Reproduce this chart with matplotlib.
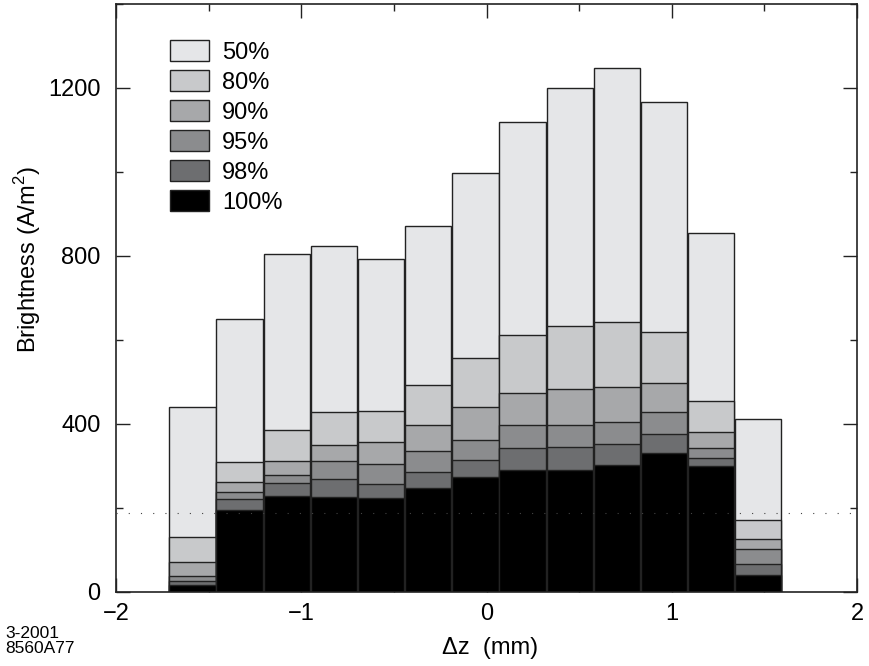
import numpy as np
import matplotlib
matplotlib.use('Agg')
import matplotlib.pyplot as plt
from matplotlib.ticker import MultipleLocator

plt.rcParams['font.family'] = ['Liberation Sans', 'DejaVu Sans']
plt.rcParams['mathtext.fontset'] = 'custom'
plt.rcParams['mathtext.rm'] = 'Liberation Sans'

# Data
dz = [-1.587, -1.333, -1.078, -0.824, -0.569, -0.315, -0.060,
      0.194, 0.449, 0.703, 0.958, 1.212, 1.467]
b50 = [440, 651, 804, 824, 794, 871, 997, 1118, 1200, 1247, 1166, 855, 413]
b80 = [132, 310, 386, 429, 432, 492, 556, 611, 634, 644, 618, 454, 171]
b90 = [72, 262, 312, 351, 356, 398, 440, 475, 483, 487, 498, 381, 127]
b95 = [39, 238, 279, 311, 304, 335, 363, 397, 398, 405, 429, 343, 102]
b98 = [26, 221, 260, 270, 258, 285, 314, 343, 345, 353, 377, 319, 66]
b100 = [17, 196, 228, 227, 223, 247, 273, 291, 291, 302, 330, 299, 41]
levels = ['50%', '80%', '90%', '95%', '98%', '100%']
colors = ['#e5e6e8', '#c8c9cb', '#a7a8aa', '#8b8c8e', '#6d6e70', '#000000']
ref_level = 189

fig = plt.figure(figsize=(8.69, 6.66), dpi=100)
ax = fig.add_axes([116/869, 1-592/666, (857-116)/869, (592-4)/666])

# Overlapping bars, tallest (50%) first
for vals, lab, col in zip([b50, b80, b90, b95, b98, b100], levels, colors):
    ax.bar(dz, vals, width=0.25, color=col, edgecolor='#222222',
           linewidth=1.0, label=lab, zorder=2)

ax.axhline(ref_level, color='#444444', linewidth=0.8,
           linestyle=(0, (1, 10)), zorder=5)

ax.set_xlim(-2, 2)
ax.set_ylim(0, 1400)
ax.set_xticks([-2, -1, 0, 1, 2])
ax.set_yticks([0, 400, 800, 1200])
ax.xaxis.set_minor_locator(MultipleLocator(0.5))
ax.yaxis.set_minor_locator(MultipleLocator(200))
ax.tick_params(which='both', direction='in', top=True, right=True,
               labelsize=17, width=1.0, color='#222222')
ax.tick_params(axis='y', which='major', length=10, pad=11)
ax.tick_params(axis='x', which='major', length=10, pad=8)
ax.tick_params(which='minor', length=5)
for s in ax.spines.values():
    s.set_linewidth(1.2)
    s.set_color('#222222')

leg = ax.legend(loc='upper left', bbox_to_anchor=(170/869, 1-40/666),
                bbox_transform=fig.transFigure, frameon=False, fontsize=17,
                handlelength=1.66, handleheight=1.0, labelspacing=0.27,
                handletextpad=0.55, borderpad=0, borderaxespad=0)

fig.text(28/869, 1-260/666, r'Brightness (A/m$^{\mathrm{2}}$)', fontsize=17,
         rotation=90, ha='center', va='center')
fig.text(490/869, 1-648/666, 'Δz  (mm)', fontsize=17, ha='center', va='center')
fig.text(5/869, 1-641/666, '3-2001\n8560A77', fontsize=12.5, ha='left',
         va='center', linespacing=1.0)

fig.savefig('out.png', dpi=100)
